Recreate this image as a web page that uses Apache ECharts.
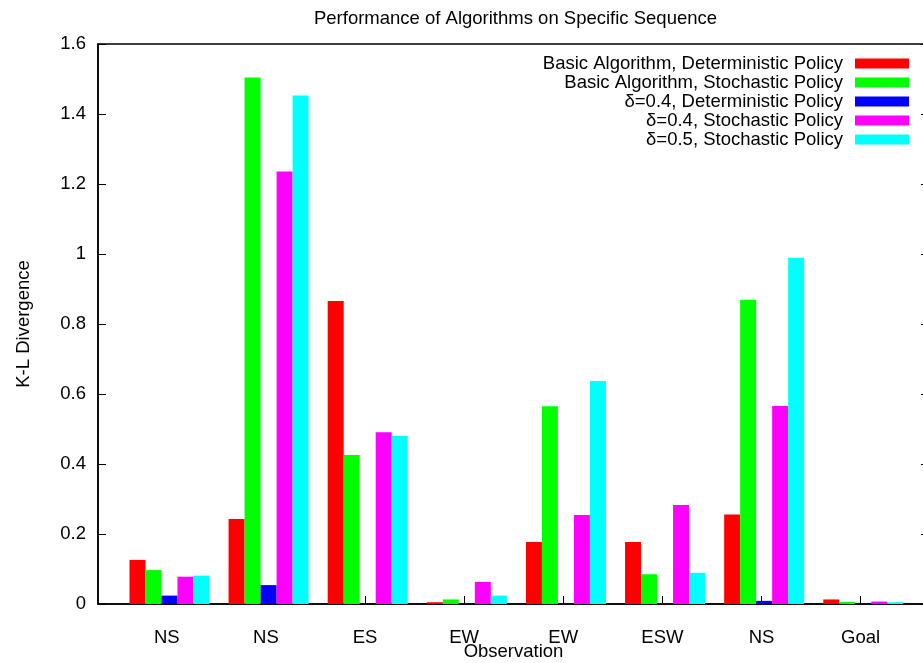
<!DOCTYPE html>
<html>
<head>
<meta charset="utf-8">
<title>Performance of Algorithms on Specific Sequence</title>
<script src="https://cdn.jsdelivr.net/npm/echarts@6/dist/echarts.min.js"></script>
<style>
  html, body { margin: 0; padding: 0; background: #fff; }
  #chart { width: 923px; height: 663px; }
</style>
</head>
<body>
<div id="chart"></div>
<script>
// Observations along the sequence (x axis)
const categories = ['NS', 'NS', 'ES', 'EW', 'EW', 'ESW', 'NS', 'Goal'];

// K-L divergence per observation for each algorithm / policy
const basicDeterministic = [0.126, 0.243, 0.866, 0.005, 0.177, 0.177, 0.256, 0.013];
const basicStochastic    = [0.097, 1.504, 0.426, 0.013, 0.565, 0.085, 0.869, 0.006];
const delta04Deterministic = [0.024, 0.054, 0, 0, 0, 0.002, 0.009, 0];
const delta04Stochastic  = [0.078, 1.236, 0.491, 0.063, 0.254, 0.283, 0.566, 0.007];
const delta05Stochastic  = [0.081, 1.453, 0.481, 0.024, 0.637, 0.089, 0.989, 0.005];

const seriesNames = [
  'Basic Algorithm, Deterministic Policy',
  'Basic Algorithm, Stochastic Policy',
  'δ=0.4, Deterministic Policy',
  'δ=0.4, Stochastic Policy',
  'δ=0.5, Stochastic Policy'
];
const seriesValues = [basicDeterministic, basicStochastic, delta04Deterministic, delta04Stochastic, delta05Stochastic];
const seriesColors = ['#ff0000', '#00ff00', '#0000ff', '#ff00ff', '#00ffff'];

const yTicks = [0, 0.2, 0.4, 0.6, 0.8, 1, 1.2, 1.4, 1.6];

const FONT = 'Liberation Sans, Arial, Helvetica, sans-serif';
const FS = 18.5;
const positions = categories.map((_, i) => i);
// clusters sit slightly right of their tick, as in the histogram layout
const CLUSTER_SHIFT = 0.027;

const chart = echarts.init(document.getElementById('chart'), null, { renderer: 'canvas' });

chart.setOption({
  animation: false,
  backgroundColor: '#fff',
  textStyle: { fontFamily: FONT, color: '#000' },
  title: {
    text: 'Performance of Algorithms on Specific Sequence',
    left: 510.5,
    textAlign: 'center',
    top: 4,
    textStyle: { fontFamily: FONT, fontSize: FS, fontWeight: 'normal', color: '#000' }
  },
  legend: {
    orient: 'vertical',
    right: 14,
    top: 54,
    padding: 0,
    itemGap: 0,
    align: 'right',
    itemWidth: 54,
    itemHeight: 10,
    icon: 'rect',
    selectedMode: false,
    data: seriesNames,
    textStyle: { fontFamily: FONT, fontSize: FS, color: '#000', lineHeight: 18.5, padding: [0, 7, 0, 0] }
  },
  grid: {
    left: 98,
    top: 44,
    right: -6,
    bottom: 59,
    show: true,
    borderColor: '#000',
    borderWidth: 1.5,
    containLabel: false,
    outerBoundsMode: 'none'
  },
  xAxis: {
    type: 'value',
    min: -0.694,
    max: 7.69,
    name: 'Observation',
    nameLocation: 'middle',
    nameGap: 38,
    nameMoveOverlap: false,
    nameTextStyle: { fontFamily: FONT, fontSize: FS, color: '#000' },
    axisLine: { show: true, onZero: false, lineStyle: { color: '#000', width: 1.5 } },
    axisTick: { show: true, inside: true, length: 8, customValues: positions, lineStyle: { color: '#000', width: 1 } },
    axisLabel: {
      show: true,
      margin: 24,
      customValues: positions,
      fontFamily: FONT,
      fontSize: FS,
      color: '#000',
      formatter: (v) => categories[Math.round(v)] || ''
    },
    splitLine: { show: false }
  },
  yAxis: [
    {
      type: 'value',
      position: 'left',
      min: 0,
      max: 1.6,
      interval: 0.2,
      name: 'K-L Divergence',
      nameLocation: 'middle',
      nameGap: 65,
      nameMoveOverlap: false,
      nameTextStyle: { fontFamily: FONT, fontSize: FS, color: '#000' },
      axisLine: { show: true, onZero: false, lineStyle: { color: '#000', width: 1.5 } },
      axisTick: { show: true, inside: true, length: 8, lineStyle: { color: '#000', width: 1 } },
      axisLabel: {
        margin: 12,
        fontFamily: FONT,
        fontSize: FS,
        color: '#000',
        customValues: yTicks,
        formatter: (v) => String(Math.round(v * 10) / 10)
      },
      splitLine: { show: false }
    },
    {
      type: 'value',
      position: 'right',
      min: 0,
      max: 1.6,
      interval: 0.2,
      axisLine: { show: true, onZero: false, lineStyle: { color: '#000', width: 1.5 } },
      axisTick: { show: true, inside: true, length: 8, lineStyle: { color: '#000', width: 1 } },
      axisLabel: { show: false },
      splitLine: { show: false }
    }
  ],
  series: seriesNames.map((name, s) => ({
    name: name,
    type: 'bar',
    yAxisIndex: 0,
    barWidth: 16,
    barGap: '0%',
    itemStyle: { color: seriesColors[s] },
    data: seriesValues[s].map((v, i) => [positions[i] + CLUSTER_SHIFT, v])
  }))
});
</script>
</body>
</html>
